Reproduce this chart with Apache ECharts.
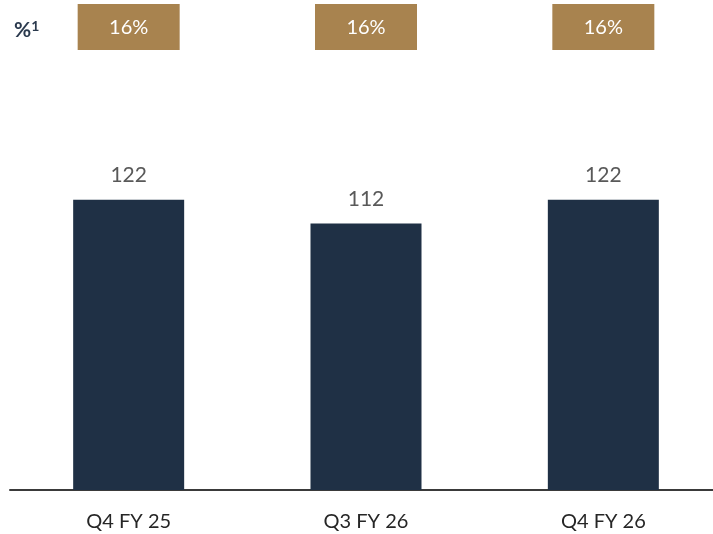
<!DOCTYPE html>
<html>
<head>
<meta charset="utf-8">
<script src="https://cdn.jsdelivr.net/npm/echarts@6/dist/echarts.min.js"></script>
<style>
  html, body { margin: 0; padding: 0; background: #fff; }
  #chart { width: 713px; height: 534px; }
</style>
</head>
<body>
<div id="chart"></div>
<script>
// chart data
const categories = ['Q4 FY 25', 'Q3 FY 26', 'Q4 FY 26'];
const values = [122, 112, 122];
const pctLabels = ['16%', '16%', '16%'];

const BOX_Y = 194.5; // vertical position of the percentage boxes (in axis units)

let chart = echarts.init(document.getElementById('chart'));

let option = {
    animation: false,
    textStyle: { fontFamily: 'Lato' },
    title: {
        text: '{a|%}{b|1}',
        left: 9,
        top: 14,
        textStyle: {
            rich: {
                a: { fontSize: 21, color: '#2b3a4e', fontFamily: 'Lato' },
                b: { fontSize: 14, color: '#2b3a4e', fontFamily: 'Lato', verticalAlign: 'top', padding: [0, 0, 8, 0] }
            }
        }
    },
    grid: { left: 10, width: 712, top: 14, bottom: 44, outerBoundsMode: 'none' },
    xAxis: {
        type: 'category',
        data: categories,
        axisTick: { show: false },
        axisLine: { lineStyle: { color: '#3a3a3a', width: 2 } },
        axisLabel: { color: '#262626', fontSize: 20, margin: 22 }
    },
    yAxis: {
        type: 'value',
        min: 0,
        max: 200,
        show: false,
        splitLine: { show: false }
    },
    series: [
        {
            type: 'bar',
            data: values,
            barWidth: 111,
            itemStyle: { color: '#1f3045' },
            label: {
                show: true,
                position: 'top',
                distance: 14,
                color: '#595959',
                fontSize: 21
            }
        },
        {
            type: 'scatter',
            data: pctLabels.map((p, i) => [i, BOX_Y]),
            symbol: 'rect',
            symbolSize: [102, 46],
            itemStyle: { color: '#a8834f', opacity: 1 },
            label: {
                show: true,
                position: 'inside',
                color: '#ffffff',
                fontSize: 20,
                formatter: p => pctLabels[p.dataIndex]
            }
        }
    ]
};

chart.setOption(option);
</script>
</body>
</html>
